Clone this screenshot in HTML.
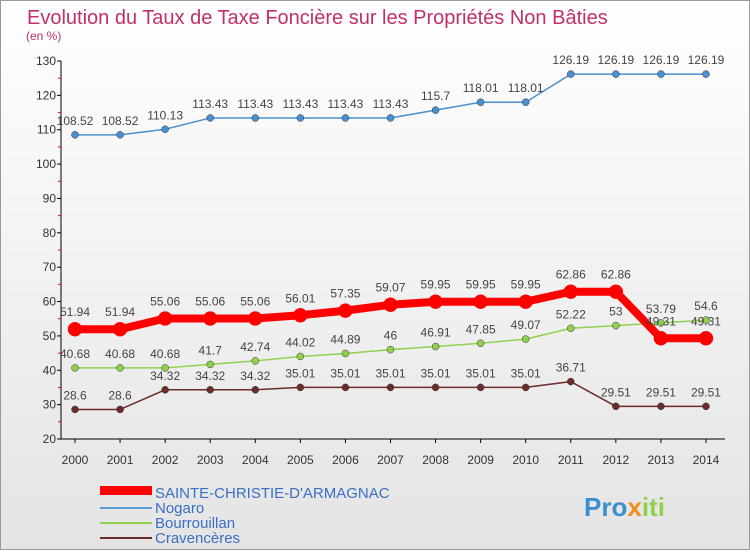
<!DOCTYPE html>
<html><head><meta charset="utf-8"><style>
html,body{margin:0;padding:0}
body{width:750px;height:550px;overflow:hidden;font-family:"Liberation Sans",sans-serif;background:linear-gradient(#fff,#e4e4e4)}
svg text{font-family:"Liberation Sans",sans-serif}
</style></head><body>
<svg id="chart" width="750" height="550" xmlns="http://www.w3.org/2000/svg">
<rect x="0.5" y="0.5" width="749" height="549" fill="none" stroke="#999"/>
<text x="27" y="24" font-size="20" fill="#c0306a">Evolution du Taux de Taxe Foncière sur les Propriétés Non Bâties</text>
<text x="26" y="40" font-size="12" fill="#c0306a">(en %)</text>
<g id="grid"></g><g id="axes"></g><g id="series"></g>
<g>
<rect x="100" y="486" width="52" height="9" fill="#f00"/>
<text x="155" y="498" font-size="15" fill="#3a6fc4">SAINTE-CHRISTIE-D'ARMAGNAC</text>
<rect x="100" y="507" width="52" height="2" fill="#5b9bd5"/>
<text x="155" y="513" font-size="15" fill="#3a6fc4">Nogaro</text>
<rect x="100" y="522" width="52" height="2" fill="#8fd14f"/>
<text x="155" y="528" font-size="15" fill="#3a6fc4">Bourrouillan</text>
<rect x="100" y="537" width="52" height="2" fill="#6b2c2c"/>
<text x="155" y="543" font-size="15" fill="#3a6fc4">Cravencères</text>
</g>
<text x="584" y="516" font-size="26" font-weight="bold" fill="#3a8fd0">Pro<tspan fill="#f28c1e">x</tspan><tspan fill="#8fd14f">iti</tspan></text>
</svg>
<script>
const years=["2000","2001","2002","2003","2004","2005","2006","2007","2008","2009","2010","2011","2012","2013","2014"];
const yTicks=[20,30,40,50,60,70,80,90,100,110,120,130];
const sainte=[51.94,51.94,55.06,55.06,55.06,56.01,57.35,59.07,59.95,59.95,59.95,62.86,62.86,49.31,49.31];
const nogaro=[108.52,108.52,110.13,113.43,113.43,113.43,113.43,113.43,115.7,118.01,118.01,126.19,126.19,126.19,126.19];
const bourrouillan=[40.68,40.68,40.68,41.7,42.74,44.02,44.89,46,46.91,47.85,49.07,52.22,53,53.79,54.6];
const cravenceres=[28.6,28.6,34.32,34.32,34.32,35.01,35.01,35.01,35.01,35.01,35.01,36.71,29.51,29.51,29.51];
const NS="http://www.w3.org/2000/svg";
const xs=i=>75+i*45.07;
const ys=v=>439-(v-20)*(378/110);
function mk(tag,attrs,parent,txt){const e=document.createElementNS(NS,tag);for(const k in attrs)e.setAttribute(k,attrs[k]);if(txt!==undefined)e.textContent=txt;parent.appendChild(e);return e;}
const axes=document.getElementById('axes'),grid=document.getElementById('grid'),ser=document.getElementById('series');
const ax=mk('line',{x1:61,y1:61,x2:61,y2:439,stroke:'#000'},axes);


const bx=mk('line',{x1:61,y1:439,x2:725,y2:439,stroke:'#000'},axes);


yTicks.forEach(v=>{
 const t=mk('text',{x:56,y:ys(v)+4,'font-size':12,fill:'#333','text-anchor':'end'},axes,String(v));
 
 
 mk('line',{x1:57,y1:ys(v),x2:61,y2:ys(v),stroke:'#000'},axes);
 if(v<130){const m=mk('line',{x1:58,y1:ys(v+5),x2:61,y2:ys(v+5),stroke:'#f00'},axes);}
});
years.forEach((y,i)=>{
 const t=mk('text',{x:xs(i),y:464,'font-size':12,fill:'#333','text-anchor':'middle'},axes,y);
 
 
 mk('line',{x1:xs(i),y1:439,x2:xs(i),y2:443,stroke:'#000'},axes);
});
function series(data,color,w,r,name,dy){
 const g=mk('g',{},ser);
 
 
 const l=mk('polyline',{points:data.map((v,i)=>xs(i)+','+ys(v)).join(' '),fill:'none',stroke:color,'stroke-width':w},g);
 
 
 data.forEach((v,i)=>{
  const c=mk('circle',{cx:xs(i),cy:ys(v),r:r,fill:color,stroke:w>3?color:'#333','stroke-width':0.5},g);
  
  
  const t=mk('text',{x:xs(i),y:ys(v)+dy,'font-size':12,fill:'#444','text-anchor':'middle'},g,String(v));
  
  
 });
}
series(nogaro,'#4a8fcf',1.5,3.5,'nogaro-series',-10);
series(bourrouillan,'#8fd14f',1.5,3.5,'bourrouillan-series',-10);
series(cravenceres,'#6b2c2c',1.5,3.5,'cravenceres-series',-10);
series(sainte,'#f00',8,7,'sainte-christie-series',-13);
</script>
</body></html>
